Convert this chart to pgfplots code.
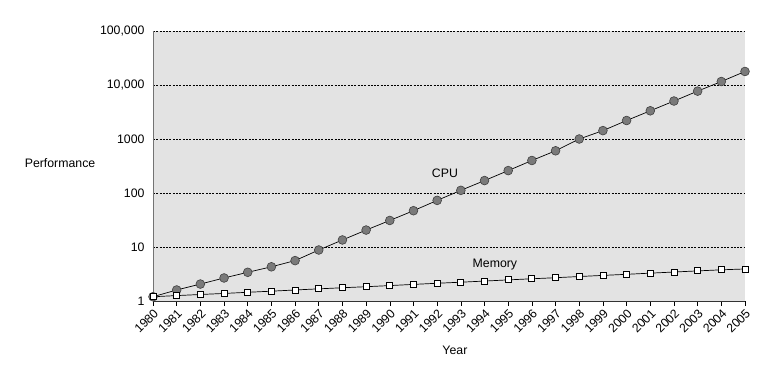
\documentclass[border=0pt]{standalone}
\usepackage{fontspec}
\setmainfont{Liberation Sans}
\usepackage{pgfplots}
\pgfplotsset{compat=1.18}
\begin{document}
\begin{tikzpicture}
\useasboundingbox (-153pt,-66pt) rectangle (615pt,301pt);
\begin{axis}[
  scale only axis,
  width=592pt, height=270pt,
  xmin=1980, xmax=2005,
  ymode=log, ymin=1, ymax=100000,
  axis x line=bottom, axis y line=left,
  x axis line style={-, draw=black!80, line width=0.9pt},
  y axis line style={-, draw=black!55, line width=0.9pt},
  axis background/.style={fill=black!11},
  xtick={1980,1981,...,2005},
  tick align=outside,
  major tick length=5pt,
  xtick style={draw=black, line width=0.6pt},
  ytick={1,10,100,1000,10000,100000},
  yticklabels={1,10,100,1000,{10,000},{100,000}},
  ytick style={draw=none},
  ymajorgrids,
  y grid style={dash pattern=on 2pt off 1.3pt, draw=black, line width=0.7pt},
  /pgf/number format/assume math mode=true,
  /pgf/number format/1000 sep={},
  xticklabel style={rotate=45, anchor=north east, font=\fontsize{12.3}{14}\selectfont, inner sep=1.5pt},
  yticklabel style={font=\fontsize{12.3}{14}\selectfont},
  ylabel={Performance},
  ylabel style={rotate=-90, at={(axis description cs:-0.157,0.511)}, anchor=center, font=\fontsize{12.3}{14}\selectfont},
  xlabel={Year},
  xlabel style={at={(axis description cs:0.51,-0.181)}, anchor=center, font=\fontsize{12.3}{14}\selectfont},
  clip=false,
]
\addplot[black, line width=0.7pt, mark=*, mark size=4.4pt, mark options={fill=black!52, draw=black!75, line width=0.6pt}] coordinates {
(1980,1.2) (1981,1.6) (1982,2.06) (1983,2.67) (1984,3.4) (1985,4.3) (1986,5.6)
(1987,8.8) (1988,13.5) (1989,20.6) (1990,31) (1991,47) (1992,73)
(1993,112) (1994,170) (1995,260) (1996,400) (1997,605) (1998,1000)
(1999,1430) (2000,2200) (2001,3330) (2002,5050) (2003,7700) (2004,11600) (2005,17800)
};
\addplot[black, line width=0.7pt, mark=square*, mark size=3pt, mark options={fill=white, draw=black, line width=0.8pt}] coordinates {
(1980,1.2) (1981,1.26) (1982,1.32) (1983,1.38) (1984,1.45) (1985,1.52) (1986,1.60)
(1987,1.68) (1988,1.76) (1989,1.84) (1990,1.93) (1991,2.03) (1992,2.13)
(1993,2.23) (1994,2.34) (1995,2.46) (1996,2.58) (1997,2.70) (1998,2.84)
(1999,2.98) (2000,3.12) (2001,3.28) (2002,3.44) (2003,3.61) (2004,3.78) (2005,3.92)
};
\node[font=\fontsize{12.3}{14}\selectfont] at (axis cs:1992.33,228) {CPU};
\node[font=\fontsize{12.3}{14}\selectfont] at (axis cs:1994.44,4.7) {Memory};
\end{axis}
\end{tikzpicture}
\end{document}
